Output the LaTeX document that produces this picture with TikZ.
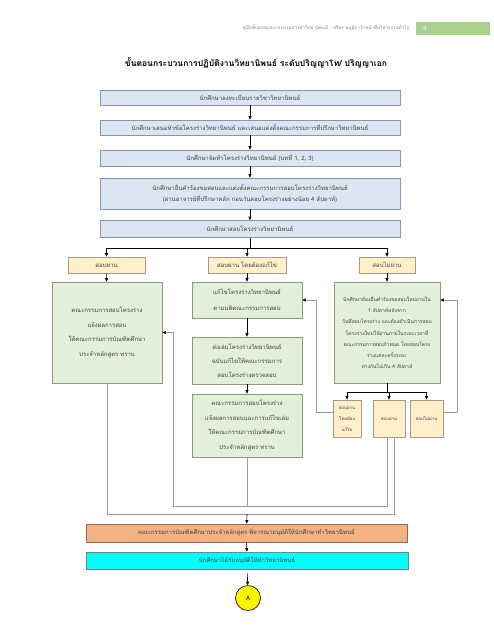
\documentclass[tikz,border=0pt]{standalone}
\usepackage{fontspec}
\setmainfont[Script=Thai]{Loma}
\usetikzlibrary{arrows.meta}
\definecolor{bleuclair}{HTML}{DCE6F2}
\definecolor{bordbleu}{HTML}{8497B0}
\definecolor{vertclair}{HTML}{E2EFD9}
\definecolor{bordvert}{HTML}{8A9A80}
\definecolor{beige}{HTML}{FFF0C9}
\definecolor{bordbeige}{HTML}{A89B80}
\definecolor{saumon}{HTML}{F4B183}
\definecolor{bordsaumon}{HTML}{8C6A50}
\definecolor{cyanvif}{HTML}{00FFFF}
\definecolor{gristrait}{HTML}{9A9A9A}
\definecolor{texte}{HTML}{404040}
\definecolor{vertpage}{HTML}{A9D18E}
\tikzset{
	case/.style={draw=#1, line width=0.6pt, align=center, inner sep=1pt, text=texte, font=\fontsize{6}{8}\selectfont},
	caseBleue/.style={case=bordbleu, fill=bleuclair},
	caseVerte/.style={case=bordvert, fill=vertclair, font=\fontsize{6}{14.5}\selectfont},
	caseBeige/.style={case=bordbeige, fill=beige},
	fleche/.style={-{Triangle[length=3.5pt,width=3pt]}, black, line width=0.6pt},
	trait/.style={gristrait, line width=0.5pt},
	retour/.style={trait, -{Triangle[length=3.5pt,width=3pt,black]}}
}
\begin{document}
\begin{tikzpicture}[x=1pt,y=-1pt]
	\useasboundingbox (0,0) rectangle (494,640);
%					En-tete de page :
	\node[anchor=east, text=gray, font=\fontsize{4.6}{6}\selectfont] (entete) at (413,28) {คู่มือขั้นตอนและกระบวนการทำวิทยานิพนธ์ : สุรีพร หนูอุ้ย เจ้าหน้าที่บริหารงานทั่วไป};
	\node[fill=vertpage, minimum width=74pt, minimum height=13pt, inner sep=0pt] (page) at (453,28.5) {};
	\node[text=white, font=\fontsize{6}{7}\selectfont] (numero) at (425,28.5) {4};
%					Titre :
	\node[font=\bfseries\fontsize{8.5}{10}\selectfont] (titre) at (256,63) {ขั้นตอนกระบวนการปฏิบัติงานวิทยานิพนธ์ ระดับปริญญาโท/ ปริญญาเอก};
%					Cases du haut :
	\node[caseBleue, minimum width=300pt, minimum height=15pt] (b1) at (250,97.5) {นักศึกษาลงทะเบียนรายวิชาวิทยานิพนธ์};
	\node[caseBleue, minimum width=300pt, minimum height=15pt] (b2) at (250,127.5) {นักศึกษาเสนอหัวข้อโครงร่างวิทยานิพนธ์ และเสนอแต่งตั้งคณะกรรมการที่ปรึกษาวิทยานิพนธ์};
	\node[caseBleue, minimum width=300pt, minimum height=16pt] (b3) at (250,158) {นักศึกษาจัดทำโครงร่างวิทยานิพนธ์ (บทที่ 1, 2, 3)};
	\node[caseBleue, minimum width=300pt, minimum height=31pt, font=\fontsize{6}{11}\selectfont] (b4) at (250,193.5) {นักศึกษายื่นคำร้องขอสอบและแต่งตั้งคณะกรรมการสอบโครงร่างวิทยานิพนธ์\\(ผ่านอาจารย์ที่ปรึกษาหลัก ก่อนวันสอบโครงร่างอย่างน้อย 4 สัปดาห์)};
	\node[caseBleue, minimum width=300pt, minimum height=17pt] (b5) at (250,229) {นักศึกษาสอบโครงร่างวิทยานิพนธ์};
	\draw[fleche] (b1) -- (b2);
	\draw[fleche] (b2) -- (b3);
	\draw[fleche] (b3) -- (b4);
	\draw[fleche] (b4) -- (b5);
%					Resultats de l'examen :
	\node[caseBeige, minimum width=77pt, minimum height=16pt] (p1) at (106.5,265) {สอบผ่าน};
	\node[caseBeige, minimum width=78pt, minimum height=16pt] (p2) at (247,265) {สอบผ่าน โดยต้องแก้ไข};
	\node[caseBeige, minimum width=56pt, minimum height=16pt] (p3) at (387,265) {สอบไม่ผ่าน};
	\coordinate (fourche) at (250,248);
	\draw[fleche] (b5) -- (fourche) -| (p1);
	\draw[fleche] (fourche) -| (p3);
	\draw[fleche] (fourche -| p2) -- (p2);
%					Colonne de gauche :
	\node[caseVerte, minimum width=110pt, minimum height=101pt] (g1) at (107,332.5) {คณะกรรมการสอบโครงร่าง\\แจ้งผลการสอบ\\ให้คณะกรรมการบัณฑิตศึกษา\\ประจำหลักสูตร ทราบ};
	\draw[fleche] (p1) -- (g1);
%					Colonne du milieu :
	\node[caseVerte, minimum width=110pt, minimum height=36pt, font=\fontsize{6}{16}\selectfont] (m1) at (247,300) {แก้ไขโครงร่างวิทยานิพนธ์\\ตามมติคณะกรรมการสอบ};
	\node[caseVerte, minimum width=110pt, minimum height=47pt, font=\fontsize{6}{14}\selectfont] (m2) at (247,360.5) {ส่งเล่มโครงร่างวิทยานิพนธ์\\ฉบับแก้ไขให้คณะกรรมการ\\สอบโครงร่างตรวจสอบ};
	\node[caseVerte, minimum width=110pt, minimum height=63pt] (m3) at (247,425.5) {คณะกรรมการสอบโครงร่าง\\แจ้งผลการสอบและการแก้ไขเล่ม\\ให้คณะกรรมการบัณฑิตศึกษา\\ประจำหลักสูตร ทราบ};
	\draw[fleche] (p2) -- (m1);
	\draw[fleche] (m1) -- (m2);
	\draw[fleche] (m2) -- (m3);
%					Colonne de droite :
	\node[caseVerte, minimum width=106pt, minimum height=101pt, font=\fontsize{5}{11.3}\selectfont] (r1) at (387,332.5) {นักศึกษาต้องยื่นคำร้องขอสอบใหม่ภายใน\\1 สัปดาห์หลังจาก\\วันที่สอบโครงร่าง และต้องดำเนินการสอบ\\โครงร่างใหม่ให้ผ่านภายในระยะเวลาที่\\คณะกรรมการสอบกำหนด โดยสอบโครง\\ร่างแต่ละครั้งระยะ\\ห่างกันไม่เกิน 4 สัปดาห์};
	\draw[fleche] (p3) -- (r1);
	\node[caseBeige, minimum width=28pt, minimum height=37pt, font=\fontsize{4.5}{11}\selectfont] (q1) at (347,418.5) {สอบผ่าน\\โดยต้อง\\แก้ไข};
	\node[caseBeige, minimum width=32pt, minimum height=37pt, font=\fontsize{4.5}{11}\selectfont] (q2) at (389,418.5) {สอบผ่าน};
	\node[caseBeige, minimum width=33pt, minimum height=37pt, font=\fontsize{4.5}{11}\selectfont] (q3) at (426.5,418.5) {สอบไม่ผ่าน};
	\coordinate (fourche2) at (387,392);
	\draw[fleche] (r1) -- (fourche2) -| (q1);
	\draw[fleche] (fourche2) -| (q3);
	\draw[fleche] (fourche2 -| q2) -- (q2);
%					Retours :
	\draw[retour] ([yshift=6pt]q1.west) -- ++(-16,0) |- (m1.east);
	\draw[retour] ([yshift=6pt]q3.east) -- ++(14,0) |- (r1.east |- m1);
	\coordinate (coin1) at (173,506);
	\coordinate (jonction) at (247,514);
	\draw[retour] ([xshift=-2pt]q2.south) |- (coin1) |- (g1.east);
	\draw[trait] ([xshift=5pt]q2.south) |- (g1.south |- jonction) -- (g1.south);
	\draw[trait] (m3.south) -- (m3.south |- coin1);
%					Cases du bas :
	\node[case=bordsaumon, fill=saumon, minimum width=321pt, minimum height=18pt] (o1) at (246.5,533) {คณะกรรมการบัณฑิตศึกษาประจำหลักสูตร พิจารณาอนุมัติให้นักศึกษาทำวิทยานิพนธ์};
	\node[case=gray, fill=cyanvif, minimum width=322pt, minimum height=17pt] (c1) at (247,560.5) {นักศึกษาได้รับอนุมัติให้ทำวิทยานิพนธ์};
	\node[circle, draw=black, fill=yellow, line width=0.6pt, minimum size=25pt, inner sep=0pt, font=\fontsize{6}{7}\selectfont] (A) at (248,598) {A};
	\draw[fleche] (jonction) -- (o1);
	\draw[fleche] (o1) -- (c1);
	\draw[fleche, shorten <=4pt] (c1) -- (A);
\end{tikzpicture}
\end{document}
